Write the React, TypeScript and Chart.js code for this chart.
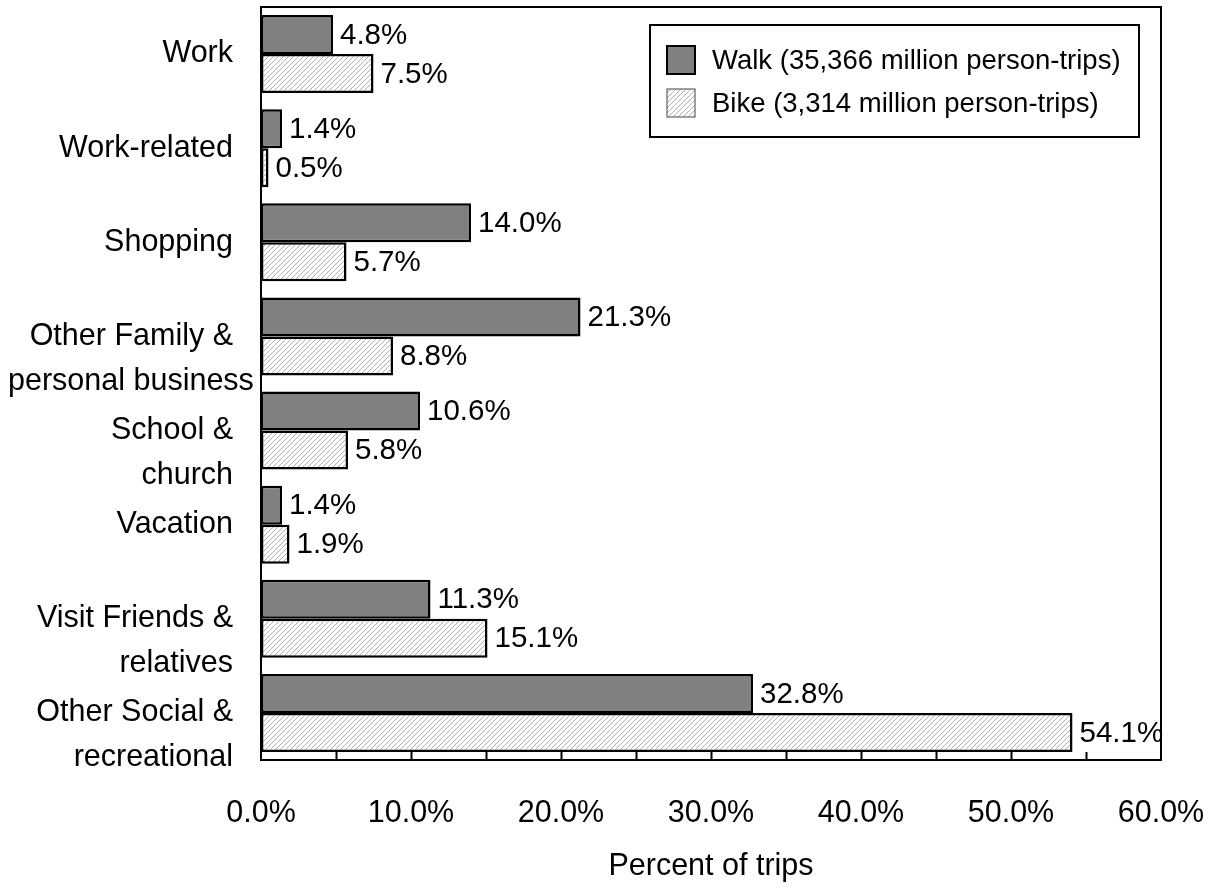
import React, { useEffect, useRef } from "react";
import { Chart, registerables } from "chart.js";

Chart.register(...registerables);

const categories: string[][] = [
  ["Work"],
  ["Work-related"],
  ["Shopping"],
  ["Other Family &", "personal business"],
  ["School &", "church"],
  ["Vacation"],
  ["Visit Friends &", "relatives"],
  ["Other Social &", "recreational"],
];
const walkValues = [4.8, 1.4, 14.0, 21.3, 10.6, 1.4, 11.3, 32.8];
const bikeValues = [7.5, 0.5, 5.7, 8.8, 5.8, 1.9, 15.1, 54.1];
const seriesLabels = [
  "Walk (35,366 million person-trips)",
  "Bike (3,314 million person-trips)",
];
const xMin = 0;
const xMax = 60;
const xLabelStep = 10;
const xTickMarkStep = 5;
const axisTitle = "Percent of trips";

const FONT = '"Liberation Sans", Arial, Helvetica, sans-serif';
const fmt = (v: number) => v.toFixed(1) + "%";

function makeHatch(): CanvasPattern | string {
  const c = document.createElement("canvas");
  c.width = 5;
  c.height = 5;
  const g = c.getContext("2d");
  if (!g) return "#ddd";
  g.fillStyle = "#ffffff";
  g.fillRect(0, 0, 5, 5);
  g.strokeStyle = "#b0b0b0";
  g.lineWidth = 1;
  g.beginPath();
  g.moveTo(0, 5);
  g.lineTo(5, 0);
  g.moveTo(-1, 1);
  g.lineTo(1, -1);
  g.moveTo(4, 6);
  g.lineTo(6, 4);
  g.stroke();
  return g.createPattern(c, "repeat") || "#ddd";
}

export default function App() {
  const ref = useRef<HTMLCanvasElement | null>(null);

  useEffect(() => {
    const canvas = ref.current;
    if (!canvas) return;
    const hatch = makeHatch();

    const overlay = {
      id: "overlay",
      afterDatasetsDraw(chart: any) {
        const ctx = chart.ctx as CanvasRenderingContext2D;
        const { left, right, top, bottom } = chart.chartArea;
        const xs = chart.scales.x;
        const ys = chart.scales.y;
        ctx.save();
        // plot border
        ctx.strokeStyle = "#000";
        ctx.lineWidth = 2;
        ctx.strokeRect(left, top, right - left, bottom - top);
        // inward tick marks
        ctx.beginPath();
        for (let v = xMin + xTickMarkStep; v < xMax; v += xTickMarkStep) {
          const px = Math.round(xs.getPixelForValue(v)) + 0.5;
          ctx.moveTo(px, bottom);
          ctx.lineTo(px, bottom - 8);
        }
        ctx.lineWidth = 2;
        ctx.stroke();

        // category labels
        ctx.fillStyle = "#000";
        ctx.font = `30.5px ${FONT}`;
        ctx.textBaseline = "middle";
        categories.forEach((lines, i) => {
          const yc = ys.getPixelForValue(i);
          lines.forEach((t, j) => {
            const y = yc + j * 45;
            const w = ctx.measureText(t).width;
            if (w > 226) {
              ctx.textAlign = "left";
              ctx.fillText(t, 8, y);
            } else {
              ctx.textAlign = "right";
              ctx.fillText(t, left - 28, y);
            }
          });
        });

        // data labels
        ctx.font = `29.5px ${FONT}`;
        ctx.textAlign = "left";
        chart.data.datasets.forEach((ds: any, di: number) => {
          const meta = chart.getDatasetMeta(di);
          meta.data.forEach((el: any, i: number) => {
            ctx.fillText(fmt(ds.data[i]), el.x + 7, el.y + 1);
          });
        });

        // legend
        const lx = 650, ly = 25, lw = 489, lh = 112;
        ctx.fillStyle = "#fff";
        ctx.fillRect(lx, ly, lw, lh);
        ctx.strokeStyle = "#000";
        ctx.lineWidth = 2;
        ctx.strokeRect(lx, ly, lw, lh);
        const rows = [60, 103];
        chart.data.datasets.forEach((ds: any, di: number) => {
          const cy = rows[di];
          ctx.fillStyle = ds.backgroundColor;
          ctx.fillRect(667, cy - 14, 28, 28);
          ctx.strokeStyle = di === 0 ? "#000" : "#444";
          ctx.lineWidth = di === 0 ? 2 : 1;
          ctx.strokeRect(667, cy - 14, 28, 28);
          ctx.fillStyle = "#000";
          ctx.font = `27.5px ${FONT}`;
          ctx.textAlign = "left";
          ctx.textBaseline = "middle";
          ctx.fillText(ds.label, 712, cy + 1);
        });
        ctx.restore();
      },
    };

    const chart = new Chart(canvas, {
      type: "bar",
      data: {
        labels: categories.map((c) => c.join(" ")),
        datasets: [
          {
            label: seriesLabels[0],
            data: walkValues,
            backgroundColor: "#808080",
            borderColor: "#000",
            borderWidth: 2.5,
            borderSkipped: false,
            categoryPercentage: 0.83,
            barPercentage: 1.0,
          },
          {
            label: seriesLabels[1],
            data: bikeValues,
            backgroundColor: hatch as any,
            borderColor: "#000",
            borderWidth: 2.5,
            borderSkipped: false,
            categoryPercentage: 0.83,
            barPercentage: 1.0,
          },
        ],
      },
      options: {
        indexAxis: "y",
        responsive: false,
        maintainAspectRatio: false,
        animation: false,
        devicePixelRatio: 1,
        layout: { padding: { top: 7, right: 54, left: 0, bottom: 0 } },
        plugins: {
          legend: { display: false },
          tooltip: { enabled: false },
        },
        scales: {
          y: {
            type: "category",
            grid: { display: false },
            border: { display: false },
            ticks: { display: false },
            afterFit: (s: any) => {
              s.width = 261;
              s.paddingTop = 0;
              s.paddingBottom = 0;
            },
          },
          x: {
            type: "linear",
            min: xMin,
            max: xMax,
            grid: { display: false },
            border: { display: false },
            ticks: {
              stepSize: xLabelStep,
              color: "#000",
              font: { family: FONT, size: 30.5 },
              padding: 27,
              callback: (v: any) => fmt(Number(v)),
              maxRotation: 0,
            },
            title: {
              display: true,
              text: axisTitle,
              color: "#000",
              font: { family: FONT, size: 30.5 },
              padding: { top: 0, bottom: 3 },
            },
            afterFit: (s: any) => {
              s.height = 128;
              s.paddingLeft = 0;
              s.paddingRight = 0;
            },
          },
        },
      },
      plugins: [overlay],
    });
    return () => chart.destroy();
  }, []);

  return (
    <div style={{ position: "absolute", left: 0, top: 0, width: 1215, height: 888, background: "#fff" }}>
      <canvas ref={ref} width={1215} height={888} style={{ display: "block", width: 1215, height: 888 }} />
    </div>
  );
}
